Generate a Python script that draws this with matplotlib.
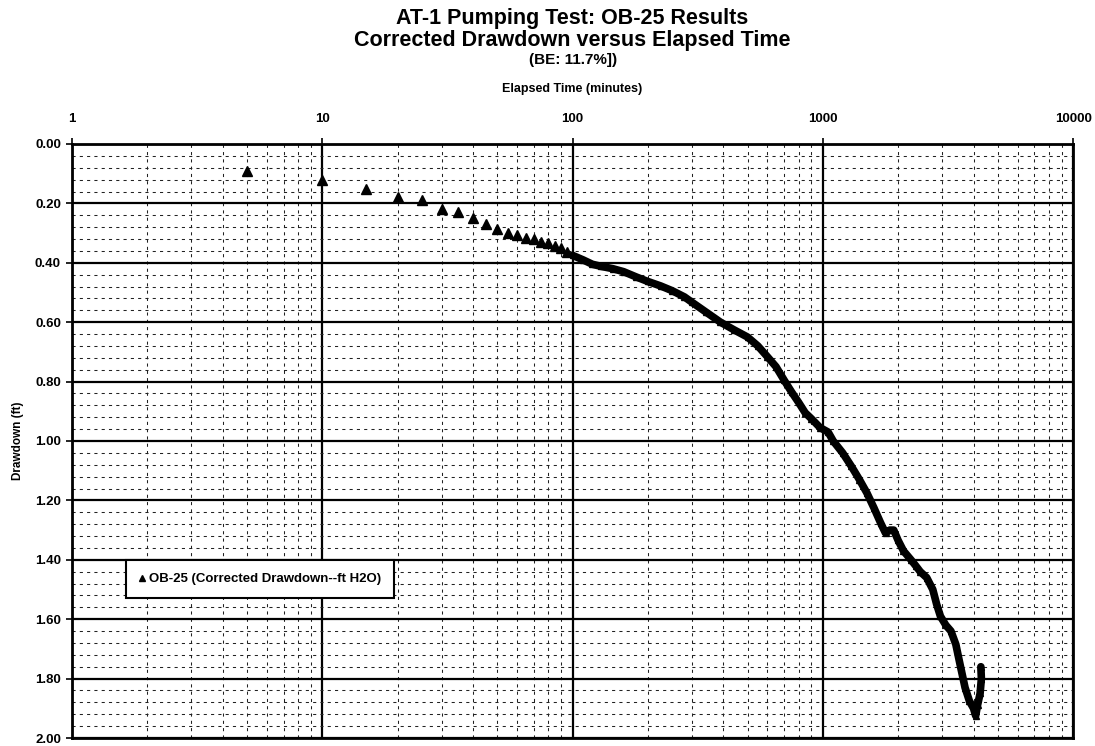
import numpy as np
import matplotlib.pyplot as plt
from matplotlib.ticker import FixedLocator, NullFormatter

plt.rcParams['font.family'] = ['Liberation Sans', 'DejaVu Sans']
plt.rcParams['font.weight'] = 'bold'

# early readings (separate triangles)
early_time = [5, 10, 15, 20, 25, 30, 35, 40, 45, 50, 55, 60, 65, 70, 75, 80, 85, 90, 95]
early_dd = [0.09, 0.12, 0.15, 0.18, 0.19, 0.22, 0.23, 0.25, 0.27, 0.285, 0.30, 0.305, 0.315,
            0.32, 0.33, 0.335, 0.345, 0.35, 0.365]

# later readings (dense, drawn as a thick band)
late_time = [100, 110, 120, 130, 145, 160, 180, 200, 225, 250, 280, 300, 340, 390, 440,
             500, 550, 600, 650, 700, 750, 800, 850, 900, 975, 1050, 1100, 1200, 1300,
             1400, 1500, 1600, 1700, 1780, 1850, 1920, 2000, 2100, 2250, 2350, 2450, 2600,
             2750, 2850, 2950, 3100, 3250, 3400, 3550, 3700, 3850, 4000, 4080,
             4150, 4250, 4300, 4280]
late_dd = [0.375, 0.39, 0.405, 0.412, 0.42, 0.43, 0.448, 0.463, 0.478, 0.494, 0.515, 0.533,
           0.565, 0.60, 0.625, 0.65, 0.68, 0.716, 0.75, 0.795, 0.835, 0.87, 0.905, 0.925,
           0.955, 0.97, 1.0, 1.04, 1.085, 1.13, 1.175, 1.225, 1.275, 1.31, 1.30, 1.30,
           1.335, 1.37, 1.40, 1.42, 1.44, 1.46, 1.50, 1.55, 1.59, 1.62, 1.64, 1.685,
           1.76, 1.83, 1.875, 1.90, 1.925, 1.89, 1.85, 1.80, 1.76]

x_ticks = [1, 10, 100, 1000, 10000]
x_labels = ['1', '10', '100', '1000', '10000']
y_ticks = np.arange(0, 2.01, 0.2)

fig = plt.figure(figsize=(10.95, 7.46), dpi=100)
ax = fig.add_axes([0.0658, 0.0107, 0.9142, 0.7963])

ax.set_xscale('log')
ax.set_xlim(1, 10000)
ax.set_ylim(2.0, 0.0)

# grid: minor dashed, major solid
minor_x = [m * 10 ** d for d in range(4) for m in range(2, 10)]
ax.xaxis.set_minor_locator(FixedLocator(minor_x))
ax.xaxis.set_minor_formatter(NullFormatter())
ax.yaxis.set_minor_locator(FixedLocator(np.arange(0.04, 2.0, 0.04)))
ax.grid(which='minor', color='#222222', linestyle=(0, (3, 4)), linewidth=0.75)
ax.grid(which='major', color='black', linestyle='-', linewidth=1.6)
ax.set_axisbelow(True)

ax.plot(early_time, early_dd, linestyle='none', marker='^', markersize=7,
        color='black', label='OB-25 (Corrected Drawdown--ft H2O)')
ax.plot(late_time, late_dd, linestyle='-', linewidth=5.5, marker='^', markersize=5,
        color='black', solid_joinstyle='round', solid_capstyle='round')

ax.xaxis.tick_top()
ax.xaxis.set_label_position('top')
ax.set_xticks(x_ticks)
ax.set_xticklabels(x_labels, fontsize=9.5, fontweight='bold')
ax.set_yticks(y_ticks)
ax.set_yticklabels([f'{v:.2f}' for v in y_ticks], fontsize=9.5, fontweight='bold')
ax.tick_params(axis='x', which='major', length=4, width=1.2, pad=10)
ax.tick_params(axis='y', which='major', length=4, width=1.2, pad=4)
ax.tick_params(which='minor', length=0)
ax.set_xlabel('Elapsed Time (minutes)', fontsize=9, fontweight='bold', labelpad=15)
ax.set_ylabel('Drawdown (ft)', fontsize=8.5, fontweight='bold', labelpad=8)

for s in ax.spines.values():
    s.set_linewidth(2)

leg = ax.legend(loc='upper left', bbox_to_anchor=(0.047, 0.31), fontsize=9.5,
                fancybox=False, framealpha=1, edgecolor='black', handlelength=0.5,
                handletextpad=0.35, borderpad=0.95, markerscale=0.6)
leg.get_frame().set_linewidth(1.5)

cx = 0.0658 + 0.9142 / 2
fig.text(cx, 0.975, 'AT-1 Pumping Test: OB-25 Results', ha='center', va='center',
         fontsize=15.5, fontweight='bold')
fig.text(cx, 0.946, 'Corrected Drawdown versus Elapsed Time', ha='center', va='center',
         fontsize=15.5, fontweight='bold')
fig.text(cx, 0.919, '(BE: 11.7%])', ha='center', va='center', fontsize=11, fontweight='bold')

fig.savefig('out.png', dpi=100)
